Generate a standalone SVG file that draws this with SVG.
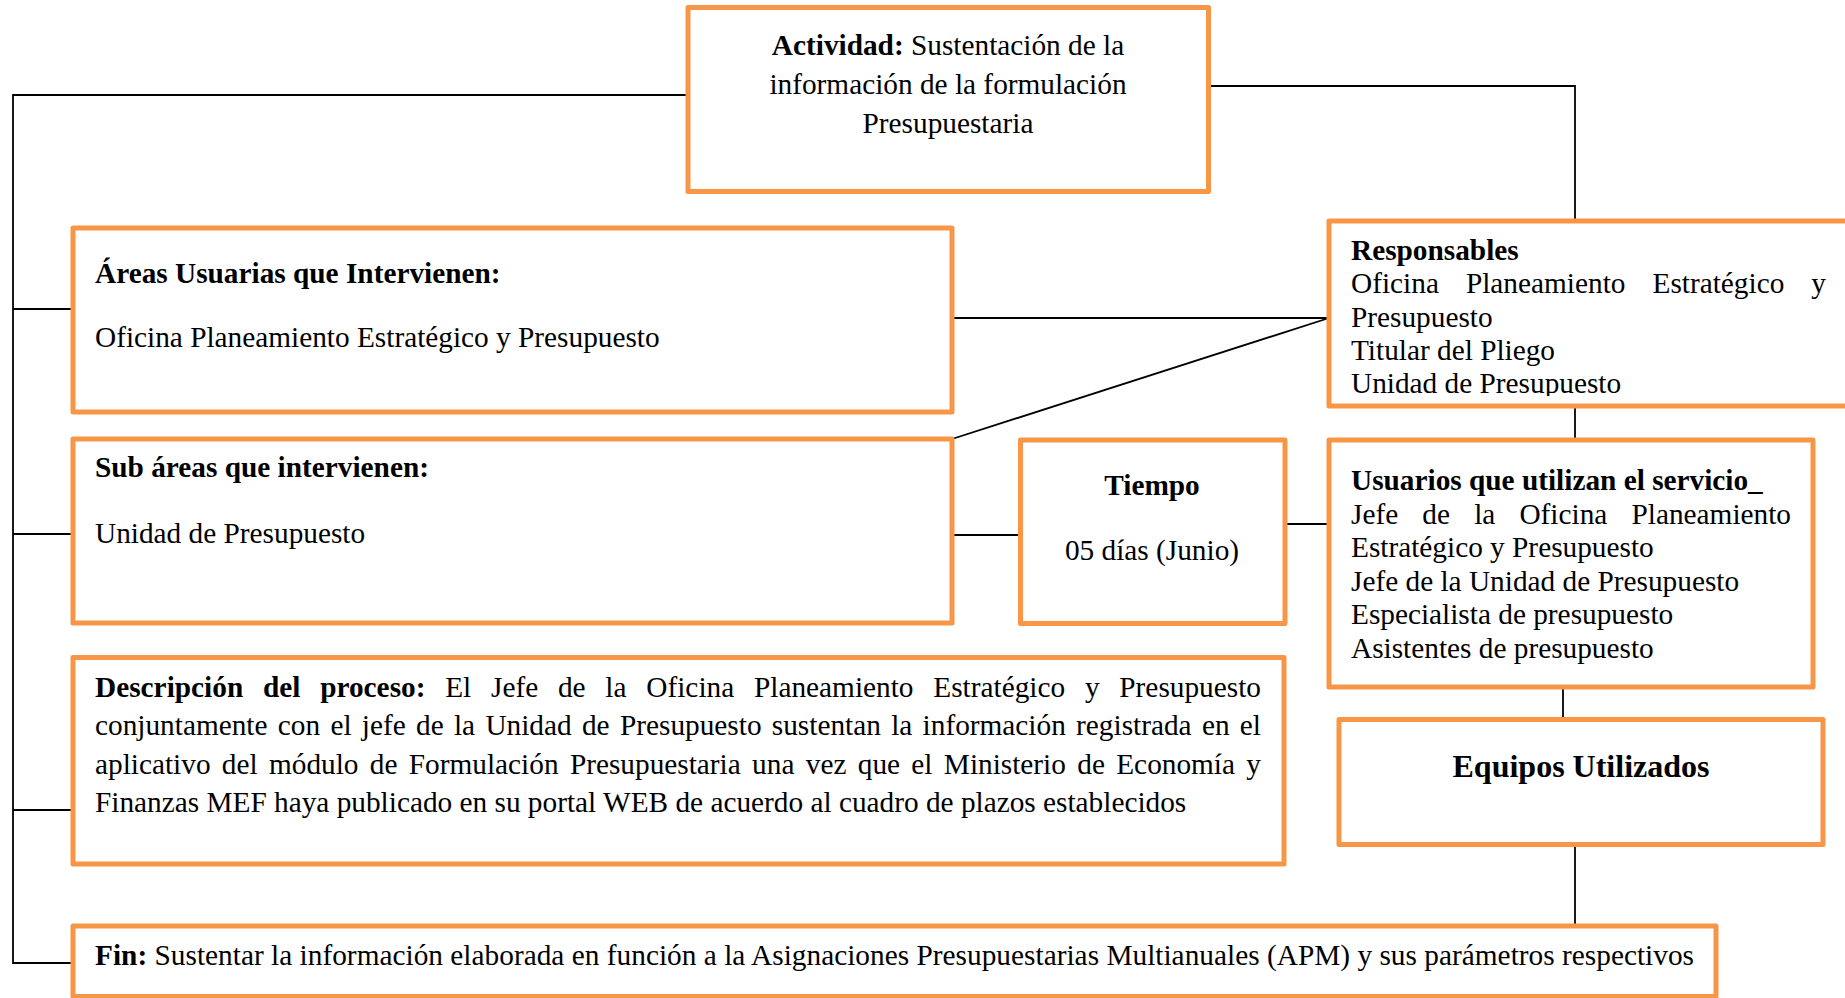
<svg xmlns="http://www.w3.org/2000/svg" width="1845" height="998" viewBox="0 0 1845 998">
<style>
.box{fill:#ffffff;stroke:#F79646;stroke-width:5;stroke-linejoin:round}
.con{fill:none;stroke:#000000;stroke-width:1.8}
text{font-family:"Liberation Serif","Times New Roman",serif;font-size:29.3px;fill:#000000}
.b{font-weight:bold}
.c{text-anchor:middle}
</style>
<defs>
<clipPath id="clipResp"><rect x="1330" y="221" width="515" height="175"/></clipPath>
</defs>
<rect x="0" y="0" width="1845" height="998" fill="#ffffff"/>

<g id="connectors">
<polyline class="con" points="688,95 13,95 13,963 73,963"/>
<line class="con" x1="13" y1="309" x2="73" y2="309"/>
<line class="con" x1="13" y1="534" x2="73" y2="534"/>
<line class="con" x1="13" y1="810" x2="73" y2="810"/>
<polyline class="con" points="1208,86 1575,86 1575,221"/>
<line class="con" x1="952" y1="318" x2="1329" y2="318"/>
<line class="con" x1="952" y1="439" x2="1329" y2="318"/>
<line class="con" x1="1575" y1="406" x2="1575" y2="440"/>
<line class="con" x1="952" y1="535" x2="1020" y2="535"/>
<line class="con" x1="1285" y1="524" x2="1329" y2="524"/>
<line class="con" x1="1563" y1="687" x2="1563" y2="719"/>
<line class="con" x1="1575" y1="845" x2="1575" y2="926"/>
</g>

<g id="actividad">
<rect class="box" x="688" y="7.5" width="520.5" height="184"/>
<text class="c" x="948" y="55"><tspan class="b">Actividad:</tspan> Sustentación de la</text>
<text class="c" x="948" y="94">información de la formulación</text>
<text class="c" x="948" y="133">Presupuestaria</text>
</g>

<g id="areas">
<rect class="box" x="73" y="228" width="879" height="184"/>
<text class="b" x="95" y="283">Áreas Usuarias que Intervienen:</text>
<text x="95" y="347">Oficina Planeamiento Estratégico y Presupuesto</text>
</g>

<g id="responsables">
<rect class="box" x="1329" y="221" width="530" height="185"/>
<g clip-path="url(#clipResp)">
<text class="b" x="1351" y="260">Responsables</text>
<text x="1351" y="293" word-spacing="19.7" textLength="475" lengthAdjust="spacing">Oficina Planeamiento Estratégico y</text>
<text x="1351" y="326.5">Presupuesto</text>
<text x="1351" y="360">Titular del Pliego</text>
<text x="1351" y="393">Unidad de Presupuesto</text>
</g>
</g>

<g id="subareas">
<rect class="box" x="73" y="439" width="879" height="184"/>
<text class="b" x="95" y="477">Sub áreas que intervienen:</text>
<text x="95" y="543">Unidad de Presupuesto</text>
</g>

<g id="tiempo">
<rect class="box" x="1020.5" y="440" width="264.5" height="183.5"/>
<text class="b c" x="1152" y="495">Tiempo</text>
<text class="c" x="1152" y="560">05 días (Junio)</text>
</g>

<g id="usuarios">
<rect class="box" x="1329" y="440" width="484" height="247"/>
<text class="b" x="1351" y="490">Usuarios que utilizan el servicio_</text>
<text x="1351" y="523.5" word-spacing="16.8" textLength="440" lengthAdjust="spacing">Jefe de la Oficina Planeamiento</text>
<text x="1351" y="557">Estratégico y Presupuesto</text>
<text x="1351" y="590.5">Jefe de la Unidad de Presupuesto</text>
<text x="1351" y="624">Especialista de presupuesto</text>
<text x="1351" y="658">Asistentes de presupuesto</text>
</g>

<g id="descripcion">
<rect class="box" x="73" y="657.5" width="1211" height="206.5"/>
<text x="95" y="696.5" word-spacing="12.4" textLength="1166" lengthAdjust="spacing"><tspan class="b">Descripción del proceso:</tspan> El Jefe de la Oficina Planeamiento Estratégico y Presupuesto</text>
<text x="95" y="735" word-spacing="2.96" textLength="1166" lengthAdjust="spacing">conjuntamente con el jefe de la Unidad de Presupuesto sustentan la información registrada en el</text>
<text x="95" y="773.5" word-spacing="3.99" textLength="1166" lengthAdjust="spacing">aplicativo del módulo de Formulación Presupuestaria una vez que el Ministerio de Economía y</text>
<text x="95" y="812">Finanzas MEF haya publicado en su portal WEB de acuerdo al cuadro de plazos establecidos</text>
</g>

<g id="equipos">
<rect class="box" x="1339" y="719.5" width="484" height="125"/>
<text class="b c" x="1581" y="776.5" style="font-size:32px">Equipos Utilizados</text>
</g>

<g id="fin">
<rect class="box" x="73" y="926" width="1643" height="70.5"/>
<text x="95" y="964.5" textLength="1599" lengthAdjust="spacing"><tspan class="b">Fin:</tspan> Sustentar la información elaborada en función a la Asignaciones Presupuestarias Multianuales (APM) y sus parámetros respectivos</text>
</g>
</svg>
